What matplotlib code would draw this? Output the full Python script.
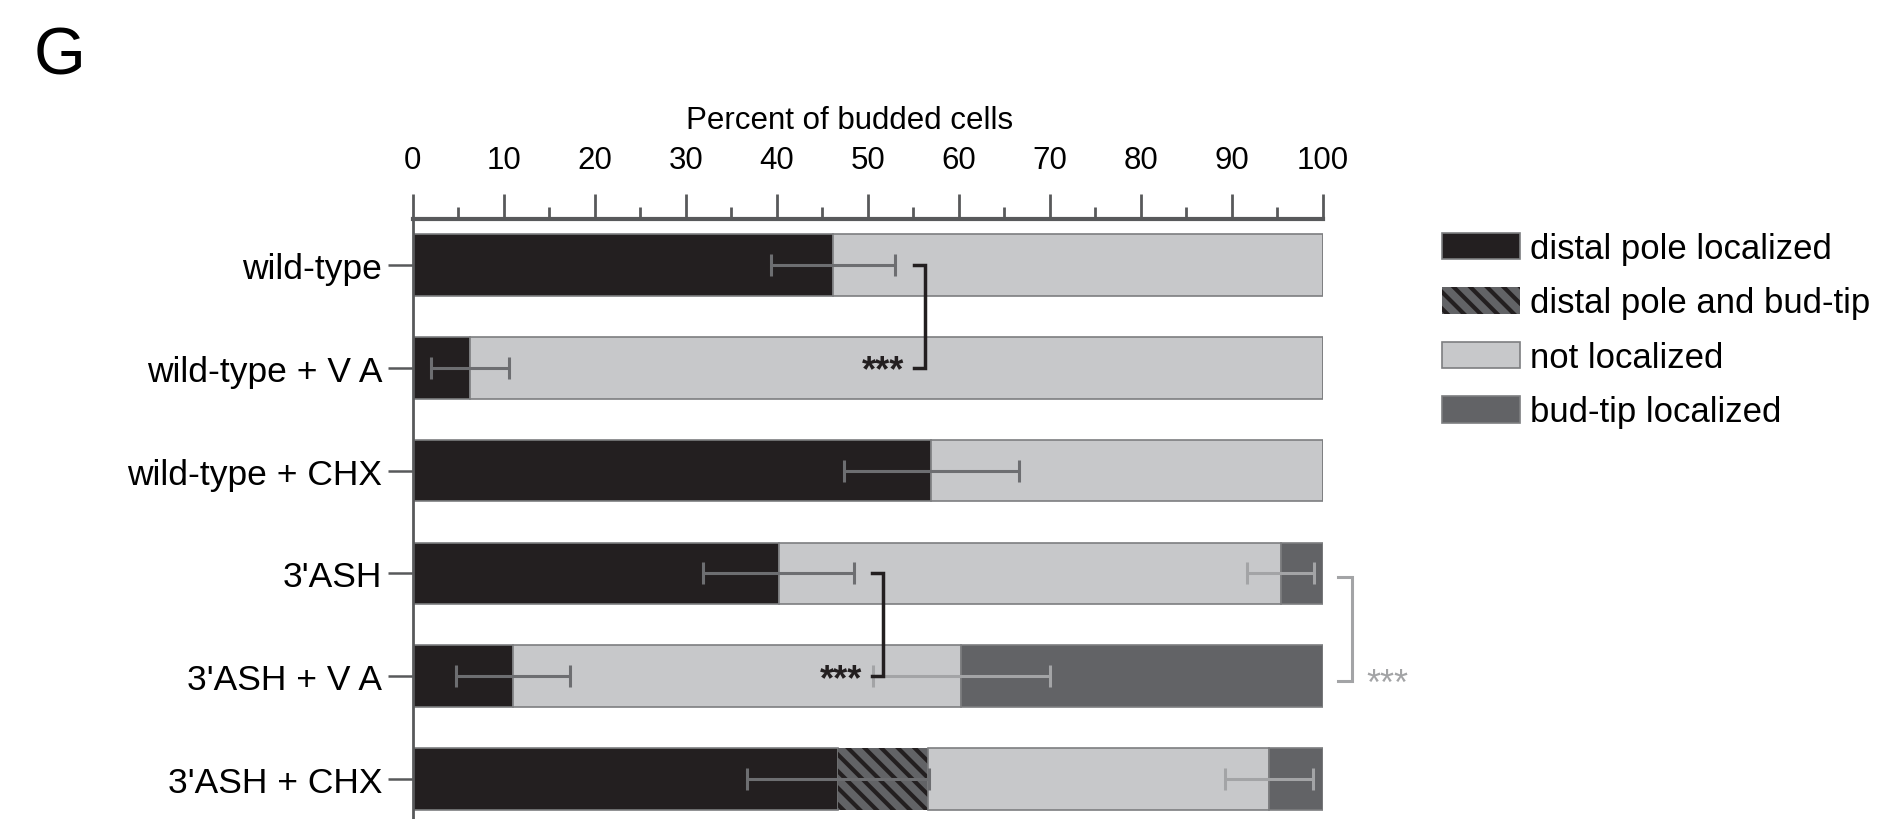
import numpy as np
import matplotlib
matplotlib.use("Agg")
import matplotlib.pyplot as plt

plt.rcParams['font.family'] = ['Liberation Sans', 'DejaVu Sans']
plt.rcParams['hatch.linewidth'] = 3.0

# データ
conditions = ["wild-type", "wild-type + V A", "wild-type + CHX",
              "3'ASH", "3'ASH + V A", "3'ASH + CHX"]
distal = np.array([46.2, 6.3, 57.0, 40.2, 11.0, 46.7])
distal_err = np.array([6.8, 4.3, 9.6, 8.3, 6.3, 10.0])
both = np.array([0, 0, 0, 0, 0, 9.9])
budtip = np.array([0, 0, 0, 4.6, 39.7, 5.9])
budtip_err = np.array([0, 0, 0, 3.7, 9.7, 4.8])
not_loc = 100 - distal - both - budtip

legend_labels = ["distal pole localized", "distal pole and bud-tip",
                 "not localized", "bud-tip localized"]

c_black = '#231f20'
c_light = '#c7c8ca'
c_dark = '#626366'
c_edge = '#7d7e80'
c_err = '#6d6e71'
c_err2 = '#a3a4a6'

fig = plt.figure(figsize=(18.87, 8.2), dpi=100)
ax = fig.add_axes([0.2188, 0.0, 0.4821, 0.7313])

y = np.arange(len(conditions))
h = 0.6

b1 = ax.barh(y, distal, height=h, color=c_black, edgecolor=c_edge, linewidth=1.2)
b2 = ax.barh(y, both, height=h, left=distal, color=c_dark, edgecolor=c_black,
             linewidth=0, hatch='\\\\')
b3 = ax.barh(y, not_loc, height=h, left=distal + both, color=c_light,
             edgecolor=c_edge, linewidth=1.2)
b4 = ax.barh(y, budtip, height=h, left=distal + both + not_loc, color=c_dark,
             edgecolor=c_edge, linewidth=1.2)

# エラーバー
ax.errorbar(distal, y, xerr=distal_err, fmt='none', ecolor=c_err,
            elinewidth=2.2, capsize=8, capthick=2.2)
m = budtip > 0
ax.errorbar((100 - budtip)[m], y[m], xerr=budtip_err[m], fmt='none',
            ecolor=c_err2, elinewidth=2.2, capsize=8, capthick=2.2)

# 有意差の括弧
def bracket(x, y0, y1, dx, color, lw):
    ax.plot([x - dx, x, x, x - dx], [y0, y0, y1, y1], color=color, lw=lw,
            clip_on=False, solid_joinstyle='miter')

bracket(56.3, 0.0, 1.0, 1.2, c_black, 2.5)
ax.text(54.0, 1.03, "***", ha='right', va='center', fontsize=26,
        fontweight='bold', color=c_black)
bracket(51.7, 3.0, 4.0, 1.2, c_black, 2.5)
ax.text(49.4, 4.03, "***", ha='right', va='center', fontsize=26,
        fontweight='bold', color=c_black)
bracket(103.2, 3.03, 4.05, 1.5, c_err2, 2.2)
ax.text(104.8, 4.08, "***", ha='left', va='center', fontsize=26,
        color=c_err2, clip_on=False)

ax.set_xlim(0, 100)
ax.set_ylim(5.389, -0.445)

ax.xaxis.tick_top()
ax.set_xticks(np.arange(0, 101, 10))
ax.set_xticks(np.arange(5, 100, 10), minor=True)
ax.tick_params(axis='x', which='major', length=18, width=2, color='#58595b',
               labelsize=22.5, pad=14)
ax.tick_params(axis='x', which='minor', length=9, width=2, color='#58595b')
ax.set_yticks(y)
ax.set_yticklabels(conditions)
ax.tick_params(axis='y', length=18, width=1.8, color='#58595b',
               labelsize=25.5, pad=4)

for s in ['right', 'bottom']:
    ax.spines[s].set_visible(False)
ax.spines['top'].set_linewidth(3)
ax.spines['top'].set_color('#58595b')
ax.spines['left'].set_linewidth(2)
ax.spines['left'].set_color('#58595b')

ax.text(0.48, 1.14, "Percent of budded cells", transform=ax.transAxes,
        ha='center', va='bottom', fontsize=22.5)

fig.text(0.018, 0.968, "G", fontsize=48, va='top', ha='left')

ax.legend([b1, b2, b3, b4], legend_labels, loc='upper left',
          bbox_to_anchor=(0.764, 0.716), bbox_transform=fig.transFigure,
          frameon=False, fontsize=25, handlelength=2.25, handleheight=0.8,
          handletextpad=0.3, labelspacing=0.62, borderaxespad=0, borderpad=0)

fig.savefig("out.png", dpi=100)
